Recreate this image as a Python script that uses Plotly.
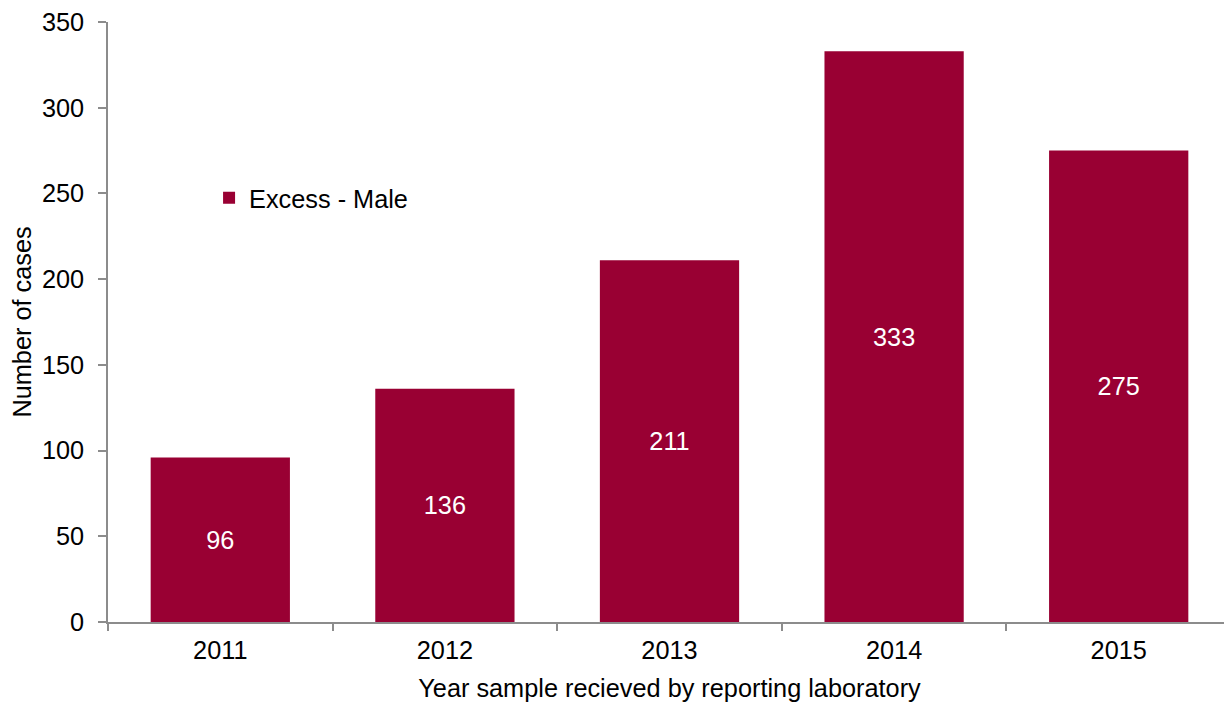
import plotly.graph_objects as go

years = ["2011", "2012", "2013", "2014", "2015"]
cases = [96, 136, 211, 333, 275]
series_name = "Excess - Male"

FONT = "Liberation Sans, Arial, sans-serif"
AXIS_COLOR = "#8c8c8c"
FS = 25.3

fig = go.Figure()
fig.add_trace(go.Bar(
    x=years, y=cases, name=series_name,
    marker=dict(color="#990033", line=dict(width=0)),
    width=0.62,
    text=[str(v) for v in cases],
    textposition="inside", insidetextanchor="middle",
    textfont=dict(color="white", size=FS, family=FONT),
    showlegend=True,
))

fig.update_layout(
    width=1232, height=702,
    margin=dict(l=100, r=9, t=14, b=88, autoexpand=False),
    plot_bgcolor="white", paper_bgcolor="white",
    font=dict(family=FONT, size=FS, color="black"),
    showlegend=True,
    legend=dict(x=0.090, y=0.707, xanchor="left", yanchor="middle",
                bgcolor="rgba(0,0,0,0)", font=dict(size=FS),
                itemwidth=30),
    xaxis=dict(
        type="category", range=[-0.5, 4.5], automargin=False,
        showline=True, linecolor=AXIS_COLOR, linewidth=1.5,
        ticks="outside", tickson="boundaries", ticklen=7, tickcolor=AXIS_COLOR,
        tickwidth=1.5, showgrid=False, ticklabelstandoff=5,
        ticklabeloverflow="allow",
        title=dict(text="Year sample recieved by reporting laboratory", standoff=16,
                   font=dict(size=FS)),
        tickfont=dict(size=FS),
    ),
    yaxis=dict(
        range=[0, 350], dtick=50, automargin=False,
        showline=True, linecolor=AXIS_COLOR, linewidth=1.5,
        ticks="outside", ticklen=8, tickcolor=AXIS_COLOR, tickwidth=1.5,
        showgrid=False, zeroline=False, ticklabelstandoff=9,
        ticklabeloverflow="allow",
        title=dict(text="Number of cases", standoff=9, font=dict(size=FS)),
        tickfont=dict(size=FS),
    ),
)

fig.write_html("out.html")
